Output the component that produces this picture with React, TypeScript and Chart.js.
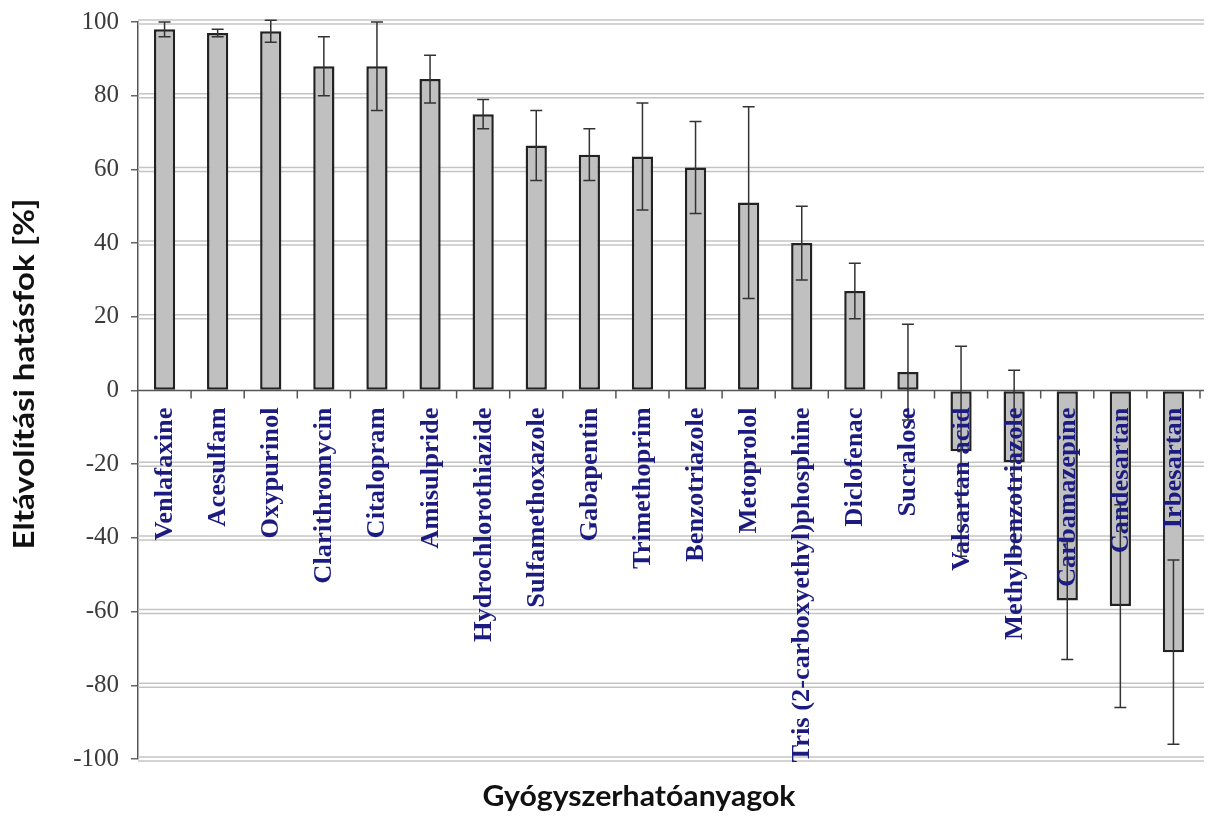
import React, { useEffect, useRef } from "react";
import { Chart, registerables } from "chart.js";

Chart.register(...registerables);

const categories = [
  "Venlafaxine", "Acesulfam", "Oxypurinol", "Clarithromycin", "Citalopram",
  "Amisulpride", "Hydrochlorothiazide", "Sulfamethoxazole", "Gabapentin", "Trimethoprim",
  "Benzotriazole", "Metoprolol", "Tris (2-carboxyethyl)phosphine", "Diclofenac", "Sucralose",
  "Valsartan acid", "Methylbenzotriazole", "Carbamazepine", "Candesartan", "Irbesartan",
];
const removal = [98, 97, 97.5, 88, 88, 84.5, 75, 66.5, 64, 63.5, 60.5, 51, 40, 27, 5, -16.5, -19.5, -57, -58.5, -71];
const errors = [2, 1, 3, 8, 12, 6.5, 4, 9.5, 7, 14.5, 12.5, 26, 10, 7.5, 13, 28.5, 25, 16, 27.5, 25];
const yTicks = [-100, -80, -60, -40, -20, 0, 20, 40, 60, 80, 100];
const yTitle = "Eltávolítási hatásfok [%]";
const xTitle = "Gyógyszerhatóanyagok";

const decorPlugin = {
  id: "decor",
  beforeDatasetsDraw(chart: any) {
    const { ctx, chartArea, scales } = chart;
    const y = scales.y;
    ctx.save();
    ctx.strokeStyle = "#c4c4c4";
    ctx.lineWidth = 1.5;
    yTicks.forEach((t) => {
      if (t === 0) return;
      const py = y.getPixelForValue(t);
      [-2, 2].forEach((o) => {
        ctx.beginPath();
        ctx.moveTo(chartArea.left, py + o);
        ctx.lineTo(chartArea.right + 4, py + o);
        ctx.stroke();
      });
    });
    ctx.restore();
  },
  afterDatasetsDraw(chart: any) {
    const { ctx, chartArea, scales } = chart;
    const x = scales.x;
    const y = scales.y;
    const zeroY = y.getPixelForValue(0);
    ctx.save();
    // zero line
    ctx.strokeStyle = "#555";
    ctx.lineWidth = 1.5;
    ctx.beginPath();
    ctx.moveTo(chartArea.left, zeroY);
    ctx.lineTo(chartArea.right + 4, zeroY);
    ctx.stroke();
    const step = (chartArea.right - chartArea.left) / categories.length;
    for (let i = 1; i <= categories.length; i++) {
      const px = chartArea.left + i * step;
      ctx.beginPath();
      ctx.moveTo(px, zeroY);
      ctx.lineTo(px, zeroY + 8);
      ctx.stroke();
    }
    // error bars
    ctx.strokeStyle = "#333";
    ctx.lineWidth = 1.5;
    removal.forEach((v, i) => {
      const cx = x.getPixelForValue(i);
      const top = y.getPixelForValue(v + errors[i]);
      const bot = y.getPixelForValue(v - errors[i]);
      ctx.beginPath();
      ctx.moveTo(cx, top);
      ctx.lineTo(cx, bot);
      ctx.moveTo(cx - 6, top);
      ctx.lineTo(cx + 6, top);
      ctx.moveTo(cx - 6, bot);
      ctx.lineTo(cx + 6, bot);
      ctx.stroke();
    });
    // category labels
    ctx.fillStyle = "#1c1c80";
    ctx.font = "bold 25px 'Liberation Serif'";
    ctx.textAlign = "right";
    ctx.textBaseline = "middle";
    categories.forEach((c, i) => {
      const cx = x.getPixelForValue(i);
      ctx.save();
      ctx.translate(cx + 1, zeroY + 17);
      ctx.rotate(-Math.PI / 2);
      ctx.scale(1.06, 1);
      ctx.fillText(c, 0, 0);
      ctx.restore();
    });
    // titles
    ctx.fillStyle = "#111";
    ctx.font = "bold 28px Lato";
    ctx.textAlign = "center";
    ctx.save();
    ctx.translate(639, 797);
    ctx.scale(1.08, 1);
    ctx.fillText(xTitle, 0, 0);
    ctx.restore();
    ctx.save();
    ctx.translate(25, 374);
    ctx.rotate(-Math.PI / 2);
    ctx.scale(1.18, 1);
    ctx.fillText(yTitle, 0, 0);
    ctx.restore();
    ctx.restore();
  },
};

export default function App() {
  const ref = useRef<HTMLCanvasElement>(null);
  useEffect(() => {
    document.body.style.margin = "0";
    const chart = new Chart(ref.current!, {
      type: "bar",
      data: {
        labels: categories,
        datasets: [
          {
            data: removal,
            backgroundColor: "#c0c0c0",
            borderColor: "#222",
            borderWidth: 2.5,
            borderSkipped: false,
            barPercentage: 0.4,
            categoryPercentage: 1,
          },
        ],
      },
      options: {
        animation: false,
        responsive: false,
        maintainAspectRatio: false,
        layout: { padding: { top: 22, right: 9, left: 0, bottom: 0 } },
        plugins: { legend: { display: false }, tooltip: { enabled: false } },
        scales: {
          x: {
            ticks: { display: false },
            grid: { display: false },
            border: { display: false },
            afterFit(scale: any) {
              scale.height = 58;
            },
          },
          y: {
            min: -100,
            max: 100,
            afterBuildTicks(scale: any) {
              scale.ticks = yTicks.map((v) => ({ value: v }));
            },
            ticks: {
              color: "#3a3a3a",
              font: { family: "'Liberation Serif'", size: 25 },
              padding: 12,
            },
            grid: { drawOnChartArea: false, drawTicks: true, tickLength: 7, color: "#666", lineWidth: 1.5 },
            border: { display: true, color: "#555", width: 1.5 },
            afterFit(scale: any) {
              scale.width = 138;
              scale.paddingTop = 0;
              scale.paddingBottom = 0;
            },
          },
        },
      },
      plugins: [decorPlugin],
    });
    return () => chart.destroy();
  }, []);
  return (
    <div style={{ width: 1209, height: 817, background: "#fff" }}>
      <canvas ref={ref} width={1209} height={817} />
    </div>
  );
}
